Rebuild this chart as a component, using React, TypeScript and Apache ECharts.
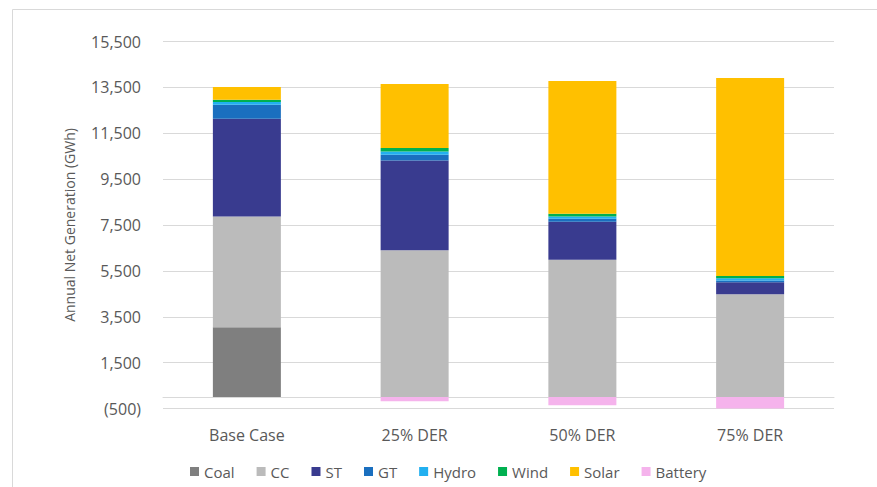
import React, { useEffect, useRef } from "react";
import * as echarts from "echarts";

// Scenario names on the category axis
const scenarios = ["Base Case", "25% DER", "50% DER", "75% DER"];

// Annual net generation by resource type, GWh
const coal = [3040, 0, 0, 0];
const cc = [4830, 6400, 5980, 4480];
const st = [4265, 3910, 1660, 525];
const gt = [610, 250, 130, 70];
const hydro = [120, 145, 100, 105];
const wind = [100, 150, 120, 100];
const solar = [555, 2795, 5790, 8630];
const battery = [0, -185, -360, -530];

// Value-axis tick positions
const yTicks = [-500, 1500, 3500, 5500, 7500, 9500, 11500, 13500, 15500];

const seriesDefs = [
  { name: "Coal", data: coal, color: "#7f7f7f" },
  { name: "CC", data: cc, color: "#bbbbbb" },
  { name: "ST", data: st, color: "#393b8f" },
  { name: "GT", data: gt, color: "#1a6fbf" },
  { name: "Hydro", data: hydro, color: "#22b0f0" },
  { name: "Wind", data: wind, color: "#00b050" },
  { name: "Solar", data: solar, color: "#ffc000" },
  { name: "Battery", data: battery, color: "#f5b3ec" },
];

const FONT = "Open Sans";
const TEXT = "#595959";
const GRID = "#d9d9d9";

function fmt(v: number): string {
  const s = Math.abs(v).toLocaleString("en-US");
  return v < 0 ? `(${s})` : s;
}

export default function App() {
  const ref = useRef<HTMLDivElement>(null);

  useEffect(() => {
    document.body.style.margin = "0";
    if (!ref.current) return;
    const chart = echarts.init(ref.current, undefined, { renderer: "svg" });
    chart.setOption({
      animation: false,
      backgroundColor: "#ffffff",
      textStyle: { fontFamily: FONT },
      graphic: [
        {
          type: "rect",
          shape: { x: 12.5, y: 9.5, width: 900, height: 500 },
          style: { fill: "none", stroke: GRID, lineWidth: 1 },
          silent: true,
        },
      ],
      grid: { left: 163, right: 43, top: 41.5, bottom: 78.5, containLabel: false },
      legend: {
        top: 464,
        left: 190,
        width: 660,
        padding: 0,
        icon: "rect",
        itemWidth: 9,
        itemHeight: 9,
        itemGap: 22,
        textStyle: { color: TEXT, fontSize: 15, fontFamily: FONT },
        data: seriesDefs.map((s) => s.name),
      },
      xAxis: {
        type: "category",
        data: scenarios,
        axisLine: { show: true, onZero: true, lineStyle: { color: GRID, width: 1 } },
        axisTick: { show: false },
        axisLabel: { color: TEXT, fontSize: 16, fontFamily: FONT, margin: 18 },
      },
      yAxis: {
        type: "value",
        min: -500,
        max: 15500,
        name: "Annual Net Generation (GWh)",
        nameLocation: "middle",
        nameGap: 87,
        nameTextStyle: { color: TEXT, fontSize: 14, fontFamily: FONT },
        axisLine: { show: false },
        axisTick: { show: false, customValues: yTicks },
        axisLabel: {
          color: TEXT,
          fontSize: 16,
          fontFamily: FONT,
          margin: 22,
          customValues: yTicks,
          formatter: (v: number) => fmt(v),
        },
        splitLine: { show: true, lineStyle: { color: GRID, width: 1 } },
      },
      series: seriesDefs.map((s) => ({
        name: s.name,
        type: "bar",
        stack: "gen",
        barWidth: 68,
        data: s.data,
        itemStyle: { color: s.color },
      })),
    });
    return () => chart.dispose();
  }, []);

  return <div ref={ref} style={{ width: 877, height: 487 }} />;
}
